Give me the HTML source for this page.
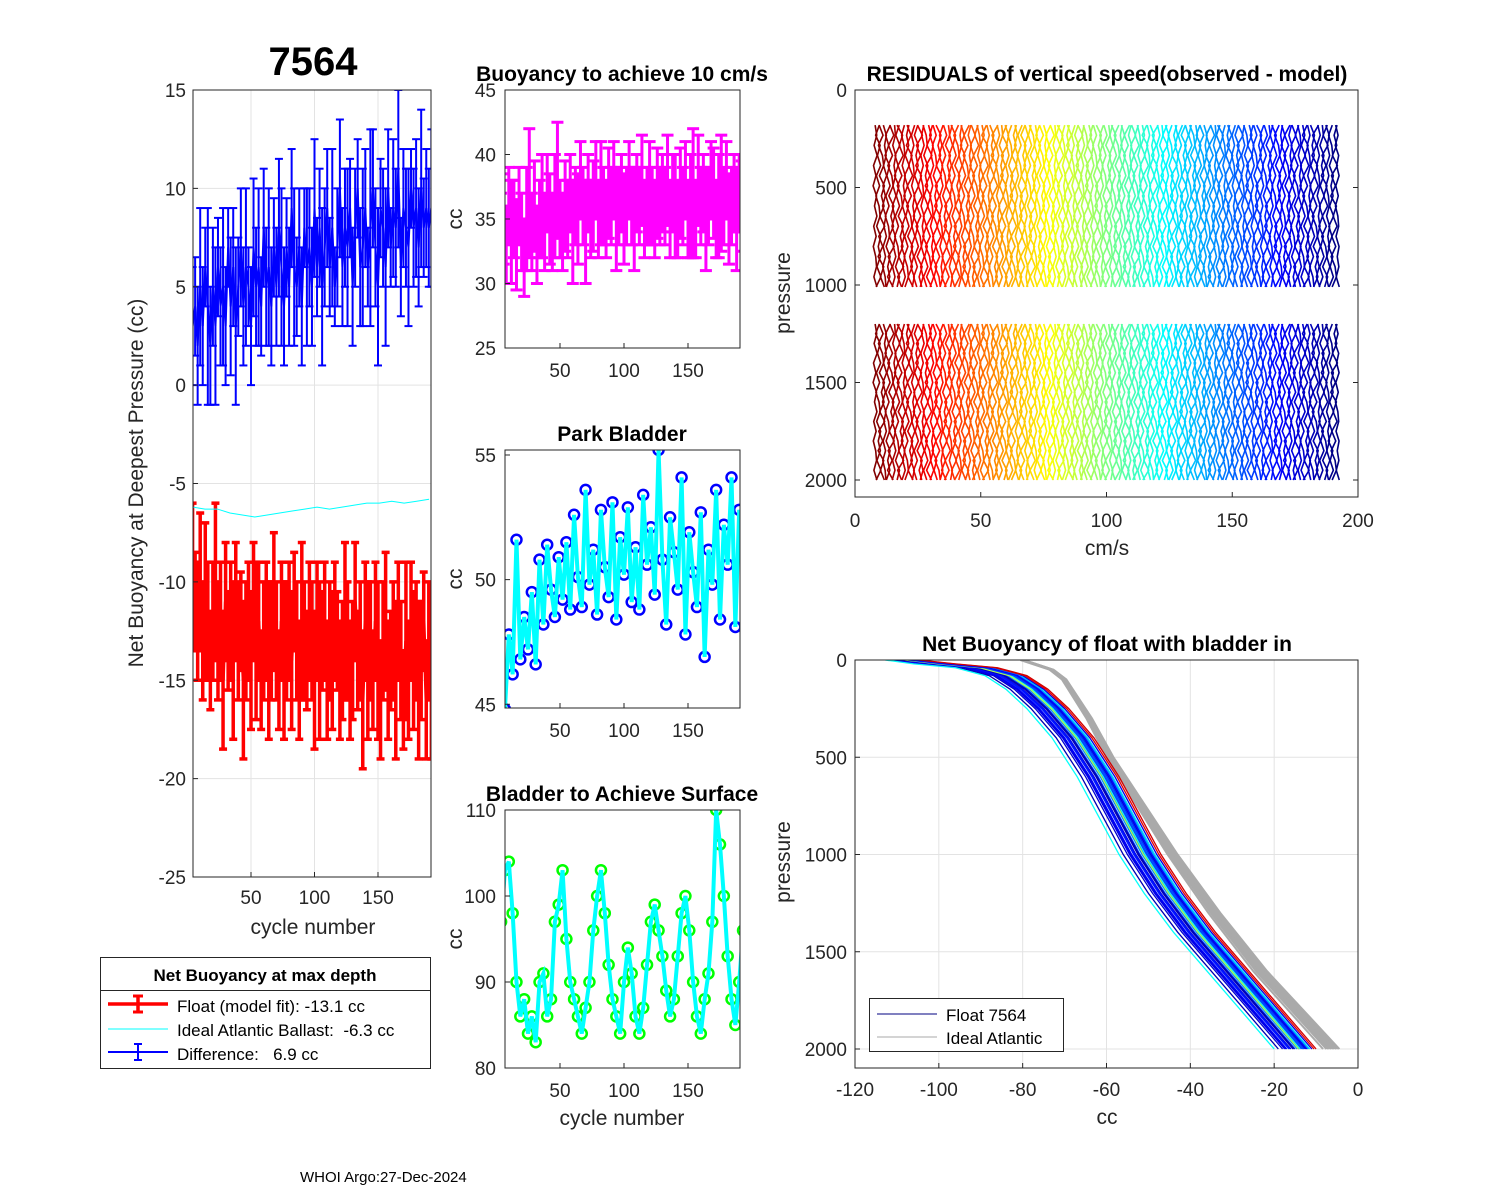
<!DOCTYPE html>
<html><head><meta charset="utf-8">
<style>
html,body{margin:0;padding:0;background:#fff;}
svg{display:block;font-family:"Liberation Sans",Arial,sans-serif;}
</style></head>
<body>
<svg id="fig" width="1500" height="1200" viewBox="0 0 1500 1200" xmlns="http://www.w3.org/2000/svg">
<rect width="1500" height="1200" fill="#fff"/>
</svg>
<script>
// ---------- DATA ----------
const diffMid=[3,4,2,5,3,6,4,2,5,3,6,4,5,3,7,4,6,3,5,7,4,6,5,3,7,5,6,4,8,5,6,4,7,5,8,6,4,7,5,9,6,5,7,4,8,6,7,5,9,6,8,5,7,9,6,8,5,7,10,6,8,7,9,5,8,10,6,7,9,6,8,10,7,5,9,8,6,10,7,9,8,11,6,9,8,7,10,8,9,7,10,8,9,8,9];
const diffErr=[3,2.5,3,4,3,2,5,3,3,4,2.5,3,4,3,2,3.5,3,4,2.5,3,3,4,2,3,3.5,3,4,2.5,3,3,4,3,2.5,3,3.5,4,3,2.5,3,3,4,2.5,3,3,2,4,3,3,3.5,2.5,3,4,3,3,2.5,4,2,3,3.5,3,3,4,2.5,3];
const fitMid=[-9,-11,-12,-10,-13,-11,-12,-14,-12,-10,-13,-12,-15,-11,-13,-12,-14,-11,-13,-12,-15,-13,-12,-14,-11,-13,-12,-15,-13,-12,-14,-13,-11,-13,-15,-12,-14,-13,-12,-14,-11,-13,-15,-12,-13,-14,-12,-13,-15,-12,-14,-13,-12,-15,-13,-14,-12,-13,-15,-14,-12,-13,-15,-14,-11,-14,-13,-16,-12,-14,-13,-15,-12,-14,-16,-13,-12,-15,-14,-13,-15,-12,-14,-16,-13,-15,-12,-14,-13,-15,-14,-12,-16,-13,-15];
const fitErr=[3,2.5,3,3.5,3,4,3,2.5,3,4,3,3,3.5,3,2.5,3,4,3,3,2.5,4,3,3,3.5,3,4,3,2.5,3,3,4,3,3.5,3,2.5,3,4,3,3,3.5,2.5,3,3,4,3,2.5,3,3,3.5,3,4,2.5,3,3,3,3.5,3,2.5,3,3,4,3,3,3];
const idealBallast=[-6.2,-6.3,-6.3,-6.5,-6.6,-6.7,-6.6,-6.5,-6.4,-6.3,-6.2,-6.3,-6.2,-6.1,-6.0,-6.0,-5.9,-6.0,-5.9,-5.8];
const buoyMid=[34,35,33,36,34,35,33,36,34,32,35,37,34,36,33,35,36,34,37,35,34,36,38,35,34,36,35,37,34,36,35,38,36,34,37,35,36,38,35,37,36,35,37,36,38,35,36,37,35,36,38,36,35,37,36,38,35,36,37,36,35,37,36,37,36,38,35,37,36,35,37,36,38,35,36,37,35,38,36,37,35,36,38,37,35,36,37,36,38,35,36,37,35,37,36];
const buoyErr=[3,3.5,3,3,4,3,3.5,3,3,3,4,5,3,3.5,3,3,4,3,3,3.5,3,4,4.5,3,3,3.5,3,3,4,3,3.5,3,3,4,3,3,3.5,3,3,4,3,3,3.5,3,3,4,3,3,3.5,3,3,3,4,3,3,3.5,3,3,4,3,3,3.5,3,3];
const parkBladder=[45.3,44.8,47.8,46.2,51.6,46.8,48.5,47.2,49.5,46.6,50.8,48.2,51.4,49.6,48.5,50.9,49.2,51.5,48.8,52.6,50.1,48.9,53.6,49.8,51.2,48.6,52.8,50.5,49.3,53.1,48.4,51.7,50.2,52.9,49.1,51.3,48.8,53.4,50.6,52.1,49.4,55.2,50.8,48.2,52.5,51.1,49.6,54.1,47.8,51.9,50.3,48.9,52.7,46.9,51.2,49.8,53.6,48.4,52.2,50.6,54.1,48.1,52.8,51.5];
const surfBladder=[97,103,104,98,90,86,88,84,86,83,90,91,86,88,97,99,103,95,90,88,86,84,87,90,96,100,103,98,92,88,86,84,90,94,91,86,84,87,92,97,99,96,93,89,86,88,93,98,100,96,90,86,84,88,91,97,110,106,100,93,88,85,90,96];
const residCycles=[];for(let c=8;c<=192;c+=1.25)residCycles.push(c);
const residWiggle=[0,0.8,-0.5,1.0,-0.8,0.4,-1.0,0.7,-0.3,0.9,-0.7,0.5,-0.9,0.3,0.7,-0.6,0.9];
const residSegments=[[180,1010],[1200,2000]];
const nbP=[0,20,40,80,150,250,400,600,800,1000,1200,1400,1600,1800,2000];
const nbBase=[-108,-100,-90,-83,-78,-73,-67,-61,-56,-51,-45,-38,-30,-22,-14];
const nbOffsets=[-5,-4,-3.5,-3,-2.5,-2,-1.5,-1,-0.5,0,0.5,1,1.5,2,2.5,3,3.5,-2.2,-1.2,0.2,1.2,2.2,-3.2,-0.2,0.8,1.8,4,-6];
const nbColorIdx=[0.05,0.08,0.1,0.12,0.15,0.1,0.05,0.2,0.25,0.12,0.18,0.3,0.08,0.22,0.35,0.1,0.9,0.14,0.06,0.4,0.16,0.28,0.11,0.55,0.2,0.13,0.92,0.38];
const idealP=[0,50,100,200,300,500,700,1000,1300,1600,2000];
const idealCC=[-80,-73,-70,-67,-64,-59,-53,-44,-34,-23,-6];
const idealOffsets=[-3,-2,-1,0,1,2,-1.5,-0.5,0.5,1.5];

// ---------- HELPERS ----------
const NS="http://www.w3.org/2000/svg";
const svg=document.getElementById('fig');
function mk(tag,attrs,parent,txt){const e=document.createElementNS(NS,tag);for(const k in attrs)e.setAttribute(k,attrs[k]);if(txt!==undefined)e.textContent=txt;(parent||svg).appendChild(e);return e;}
function lin(d0,d1,r0,r1){return v=>r0+(v-d0)*(r1-r0)/(d1-d0);}
function jet(t){const r=Math.min(Math.max(1.5-Math.abs(4*t-3),0),1),g=Math.min(Math.max(1.5-Math.abs(4*t-2),0),1),b=Math.min(Math.max(1.5-Math.abs(4*t-1),0),1);return `rgb(${Math.round(r*255)},${Math.round(g*255)},${Math.round(b*255)})`;}
function axesBox(g,x0,y0,x1,y1,name){const r=mk('rect',{x:x0,y:y0,width:x1-x0,height:y1-y0,fill:'none',stroke:'#262626','stroke-width':1},g);}
function text(g,x,y,s,opts){const t=mk('text',Object.assign({x:x,y:y,'font-size':19,fill:'#262626'},opts||{}),g,s);return t;}
function clip(id,x0,y0,x1,y1){const c=mk('clipPath',{id:id});mk('rect',{x:x0,y:y0,width:x1-x0,height:y1-y0},c);}

// ---------- PANEL 1 ----------
(function(){
 const g=mk('g',{});
 const X0=193,X1=431,Y0=90,Y1=877;
 const sx=lin(0,50,187.5,251),sy=lin(15,-25,90,877);
 clip('c1',X0,Y0,X1,Y1);
 [50,100,150].forEach(v=>{mk('line',{x1:sx(v),x2:sx(v),y1:Y0,y2:Y1,stroke:'#e3e3e3'},g);});
 [15,10,5,0,-5,-10,-15,-20,-25].forEach(v=>{mk('line',{x1:X0,x2:X1,y1:sy(v),y2:sy(v),stroke:'#e3e3e3'},g);});
 const d=mk('g',{'clip-path':'url(#c1)'},g);
 function ebar(mid,err,col,w,name){const sg=mk('g',{},d);
  let pts=mid.map((m,i)=>sx(4+2*i)+','+sy(m)).join(' ');
  mid.forEach((m,i)=>{const x=sx(4+2*i),e=err[i%err.length];mk('line',{x1:x,x2:x,y1:sy(m-e),y2:sy(m+e),stroke:col,'stroke-width':w},sg);
   mk('line',{x1:x-4,x2:x+4,y1:sy(m-e),y2:sy(m-e),stroke:col,'stroke-width':w},sg);
   mk('line',{x1:x-4,x2:x+4,y1:sy(m+e),y2:sy(m+e),stroke:col,'stroke-width':w},sg);});
  mk('polyline',{points:pts,fill:'none',stroke:col,'stroke-width':w},sg);}
 ebar(diffMid,diffErr,'#0000ff',2,'difference-series');
 ebar(fitMid,fitErr,'#ff0000',3.5,'float-fit-series');
 const cl=mk('polyline',{points:idealBallast.map((v,i)=>sx(4+i*9.8)+','+sy(v)).join(' '),fill:'none',stroke:'#00ffff','stroke-width':1},d);
 
 axesBox(g,X0,Y0,X1,Y1,'panel1-axes');
 [50,100,150].forEach(v=>{text(g,sx(v),904,v,{'text-anchor':'middle'});mk('line',{x1:sx(v),x2:sx(v),y1:Y1,y2:Y1-5,stroke:'#262626'},g);});
 [15,10,5,0,-5,-10,-15,-20,-25].forEach(v=>{text(g,186,sy(v)+7,v,{'text-anchor':'end'});mk('line',{x1:X0,x2:X0+5,y1:sy(v),y2:sy(v),stroke:'#262626'},g);});
 const t=text(g,313,75,'7564',{'text-anchor':'middle','font-size':40,'font-weight':'bold',fill:'#000'});
 text(g,313,934,'cycle number',{'text-anchor':'middle','font-size':21});
 const yl=text(g,0,0,'Net Buoyancy at Deepest Pressure (cc)',{'text-anchor':'middle','font-size':21,transform:'translate(143,483) rotate(-90)'});
 // legend
 const L=mk('g',{});
 mk('rect',{x:100.5,y:957.5,width:330,height:111,fill:'#fff',stroke:'#262626'},L);
 mk('line',{x1:100,x2:431,y1:990.5,y2:990.5,stroke:'#262626'},L);
 text(L,265,981,'Net Buoyancy at max depth',{'text-anchor':'middle','font-size':17,'font-weight':'bold',fill:'#000'});
 mk('line',{x1:108,x2:168,y1:1004,y2:1004,stroke:'#f00','stroke-width':3.5},L);mk('line',{x1:138,x2:138,y1:996,y2:1012,stroke:'#f00','stroke-width':3.5},L);
 mk('line',{x1:133,x2:143,y1:996,y2:996,stroke:'#f00','stroke-width':3},L);mk('line',{x1:133,x2:143,y1:1012,y2:1012,stroke:'#f00','stroke-width':3},L);
 text(L,177,1012,'Float (model fit): -13.1 cc',{'font-size':17,fill:'#000'});
 mk('line',{x1:108,x2:168,y1:1029,y2:1029,stroke:'#0ff','stroke-width':1},L);
 text(L,177,1036,'Ideal Atlantic Ballast:  -6.3 cc',{'font-size':17,fill:'#000',style:'white-space:pre'});
 mk('line',{x1:108,x2:168,y1:1052,y2:1052,stroke:'#00f','stroke-width':2},L);mk('line',{x1:138,x2:138,y1:1044,y2:1060,stroke:'#00f','stroke-width':2},L);
 mk('line',{x1:134,x2:142,y1:1044,y2:1044,stroke:'#00f','stroke-width':2},L);mk('line',{x1:134,x2:142,y1:1060,y2:1060,stroke:'#00f','stroke-width':2},L);
 text(L,177,1060,'Difference:   6.9 cc',{'font-size':17,fill:'#000',style:'white-space:pre'});
})();

// ---------- SMALL PANELS ----------
function smallPanel(name,Y0,Y1,ymin,ymax,yticks,title,drawFn,xlabel){
 const g=mk('g',{});
 const X0=505,X1=740;const sx=lin(0,50,496,560),sy=lin(ymin,ymax,Y1,Y0);
 clip(name+'-clip',X0,Y0,X1,Y1);
 const d=mk('g',{'clip-path':'url(#'+name+'-clip)'},g);
 drawFn(d,sx,sy);
 axesBox(g,X0,Y0,X1,Y1,name+'-axes');
 [50,100,150].forEach(v=>{text(g,sx(v),Y1+29,v,{'text-anchor':'middle'});mk('line',{x1:sx(v),x2:sx(v),y1:Y1,y2:Y1-5,stroke:'#262626'},g);});
 yticks.forEach(v=>{text(g,496,sy(v)+7,v,{'text-anchor':'end'});mk('line',{x1:X0,x2:X0+5,y1:sy(v),y2:sy(v),stroke:'#262626'},g);});
 text(g,622,Y0-9,title,{'text-anchor':'middle','font-size':21,'font-weight':'bold',fill:'#000'});
 text(g,0,0,'cc',{'text-anchor':'middle','font-size':21,transform:`translate(462,${(Y0+Y1)/2}) rotate(-90)`});
 if(xlabel)text(g,622,Y1+57,xlabel,{'text-anchor':'middle','font-size':21});
}
smallPanel('buoyancy-10cms-panel',90,348,25,45,[25,30,35,40,45],'Buoyancy to achieve 10 cm/s',(d,sx,sy)=>{
 const sg=mk('g',{},d);
 buoyMid.forEach((m,i)=>{const x=sx(4+2*i),e=buoyErr[i%buoyErr.length];mk('line',{x1:x,x2:x,y1:sy(m-e),y2:sy(m+e),stroke:'#f0f','stroke-width':3},sg);
  mk('line',{x1:x-6,x2:x+6,y1:sy(m-e),y2:sy(m-e),stroke:'#f0f','stroke-width':3},sg);
  mk('line',{x1:x-6,x2:x+6,y1:sy(m+e),y2:sy(m+e),stroke:'#f0f','stroke-width':3},sg);});
 mk('polyline',{points:buoyMid.map((m,i)=>sx(4+2*i)+','+sy(m)).join(' '),fill:'none',stroke:'#f0f','stroke-width':3},sg);
});
smallPanel('park-bladder-panel',450,708,44.85,55.2,[45,50,55],'Park Bladder',(d,sx,sy)=>{
 const sg=mk('g',{},d);
 parkBladder.forEach((v,i)=>mk('circle',{cx:sx(4+3*i),cy:sy(v),r:5,fill:'none',stroke:'#0000ff','stroke-width':2.5},sg));
 mk('polyline',{points:parkBladder.map((v,i)=>sx(4+3*i)+','+sy(v)).join(' '),fill:'none',stroke:'#00ffff','stroke-width':4},sg);
});
smallPanel('surface-bladder-panel',810,1068,80,110,[80,90,100,110],'Bladder to Achieve Surface',(d,sx,sy)=>{
 const sg=mk('g',{},d);
 surfBladder.forEach((v,i)=>mk('circle',{cx:sx(4+3*i),cy:sy(v),r:5,fill:'none',stroke:'#00ff00','stroke-width':2.5},sg));
 mk('polyline',{points:surfBladder.map((v,i)=>sx(4+3*i)+','+sy(v)).join(' '),fill:'none',stroke:'#00ffff','stroke-width':4},sg);
},'cycle number');

// ---------- RESIDUALS ----------
(function(){
 const g=mk('g',{});
 const X0=855,X1=1358,Y0=90,Y1=497;const sx=lin(0,200,855,1358),sy=lin(0,2000,90,480);
 const d=mk('g',{},g);
 residCycles.forEach((c,i)=>{
  residSegments.forEach(seg=>{const n=residWiggle.length;const pts=[];
   for(let k=0;k<n;k++){const p=seg[0]+(seg[1]-seg[0])*k/(n-1);const w=residWiggle[(k+i*5)%n]*(0.8+(i%3)*0.25);pts.push(sx(c+w)+','+sy(p));}
   const pl=mk('polyline',{points:pts.join(' '),fill:'none',stroke:jet(1-i/(residCycles.length-1)),'stroke-width':1.6},d);
   });
 });
 axesBox(g,X0,Y0,X1,Y1,'residuals-axes');
 [0,50,100,150,200].forEach(v=>{text(g,sx(v),527,v,{'text-anchor':'middle'});mk('line',{x1:sx(v),x2:sx(v),y1:Y1,y2:Y1-5,stroke:'#262626'},g);});
 [0,500,1000,1500,2000].forEach(v=>{text(g,847,sy(v)+7,v,{'text-anchor':'end'});mk('line',{x1:X0,x2:X0+5,y1:sy(v),y2:sy(v),stroke:'#262626'},g);mk('line',{x1:X1,x2:X1-5,y1:sy(v),y2:sy(v),stroke:'#262626'},g);});
 text(g,1107,81,'RESIDUALS of vertical speed(observed - model)',{'text-anchor':'middle','font-size':21,'font-weight':'bold',fill:'#000'});
 text(g,1107,555,'cm/s',{'text-anchor':'middle','font-size':21});
 text(g,0,0,'pressure',{'text-anchor':'middle','font-size':21,transform:'translate(790,293) rotate(-90)'});
})();

// ---------- NET BUOYANCY PROFILES ----------
(function(){
 const g=mk('g',{});
 const X0=855,X1=1358,Y0=660,Y1=1068;const sx=lin(-120,0,855,1358),sy=lin(0,2000,660,1049);
 clip('c6',X0,Y0,X1,Y1);
 [-100,-80,-60,-40,-20].forEach(v=>mk('line',{x1:sx(v),x2:sx(v),y1:Y0,y2:Y1,stroke:'#e3e3e3'},g));
 [500,1000,1500,2000].forEach(v=>mk('line',{x1:X0,x2:X1,y1:sy(v),y2:sy(v),stroke:'#e3e3e3'},g));
 const d=mk('g',{'clip-path':'url(#c6)'},g);
 idealOffsets.forEach(o=>{const pl=mk('polyline',{points:idealP.map((p,k)=>sx(idealCC[k]+o*(0.3+p/2000)*0.6)+','+sy(p)).join(' '),fill:'none',stroke:'#aaaaaa','stroke-width':2},d);
  });
 nbOffsets.forEach((o,j)=>{const pl=mk('polyline',{points:nbP.map((p,k)=>sx(nbBase[k]+o*(k===0?0.8:1))+','+sy(p)).join(' '),fill:'none',stroke:jet(nbColorIdx[j]),'stroke-width':1.3},d);
  });
 axesBox(g,X0,Y0,X1,Y1,'profile-axes');
 [-120,-100,-80,-60,-40,-20,0].forEach(v=>{text(g,sx(v),1096,v,{'text-anchor':'middle'});mk('line',{x1:sx(v),x2:sx(v),y1:Y1,y2:Y1-5,stroke:'#262626'},g);});
 [0,500,1000,1500,2000].forEach(v=>{text(g,847,sy(v)+7,v,{'text-anchor':'end'});mk('line',{x1:X0,x2:X0+5,y1:sy(v),y2:sy(v),stroke:'#262626'},g);});
 text(g,1107,651,'Net Buoyancy of float with bladder in',{'text-anchor':'middle','font-size':21,'font-weight':'bold',fill:'#000'});
 text(g,1107,1124,'cc',{'text-anchor':'middle','font-size':21});
 text(g,0,0,'pressure',{'text-anchor':'middle','font-size':21,transform:'translate(790,862) rotate(-90)'});
 const L=mk('g',{});
 mk('rect',{x:869.5,y:998.5,width:194,height:53,fill:'#fff',stroke:'#262626'},L);
 mk('line',{x1:877,x2:937,y1:1014,y2:1014,stroke:'#000080','stroke-width':1},L);
 text(L,946,1021,'Float 7564',{'font-size':17,fill:'#000'});
 mk('line',{x1:877,x2:937,y1:1037,y2:1037,stroke:'#aaaaaa','stroke-width':1},L);
 text(L,946,1044,'Ideal Atlantic',{'font-size':17,fill:'#000'});
})();
const ft=text(svg,300,1182,'WHOI Argo:27-Dec-2024',{'font-size':15,fill:'#000'});


</script>
</body></html>
